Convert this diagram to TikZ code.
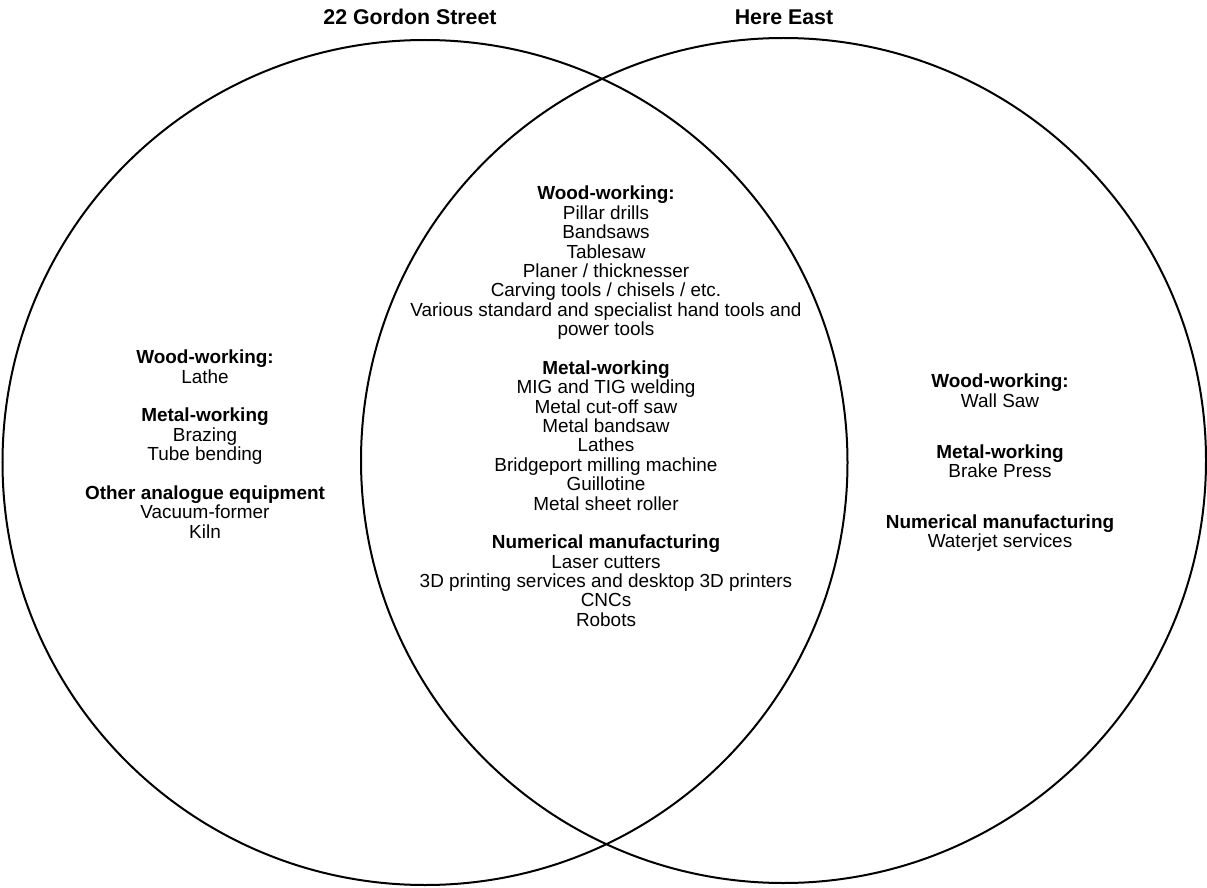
\documentclass[tikz,border=0pt]{standalone}
\usepackage{fontspec}
\setmainfont{Liberation Sans}
\begin{document}
\begin{tikzpicture}[x=0.75pt,y=-0.75pt,
  ring/.style={circle,draw,line width=1.5pt,inner sep=0pt,minimum size=633.75pt},
  title/.style={font=\fontsize{16}{18}\selectfont\bfseries,inner sep=0pt},
  list/.style={align=center,inner sep=0pt,anchor=north,
    font=\fontsize{14.2}{14.55}\selectfont}]
\useasboundingbox (0,0) rectangle (1207,888);
% the two sites
\node[ring] (gordon) at (425,462.5) {};
\node[ring] (east) at (783.5,460.5) {};
\node[title] (gordonT) at (410,17) {22 Gordon Street};
\node[title] (eastT) at (784,17) {Here East};
% equipment only at 22 Gordon Street
\node[list] (left) at (205,350) {\textbf{Wood-working:}\\Lathe\\[14.4pt]
  \textbf{Metal-working}\\Brazing\\Tube bending\\[14.4pt]
  \textbf{Other analogue equipment}\\Vacuum-former\\Kiln};
% shared equipment
\node[list] (shared) at (606,186) {\textbf{Wood-working:}\\Pillar drills\\Bandsaws\\Tablesaw\\
  Planer / thicknesser\\Carving tools / chisels / etc.\\
  Various standard and specialist hand tools and\\power tools\\[14.4pt]
  \textbf{Metal-working}\\MIG and TIG welding\\Metal cut-off saw\\Metal bandsaw\\Lathes\\
  Bridgeport milling machine\\Guillotine\\Metal sheet roller\\[14.4pt]
  \textbf{Numerical manufacturing}\\Laser cutters\\3D printing services and desktop 3D printers\\
  CNCs\\Robots};
% equipment only at Here East
\node[list] (right) at (1000,374) {\textbf{Wood-working:}\\Wall Saw\\[23.5pt]
  \textbf{Metal-working}\\Brake Press\\[23.5pt]
  \textbf{Numerical manufacturing}\\Waterjet services};
\end{tikzpicture}
\end{document}
